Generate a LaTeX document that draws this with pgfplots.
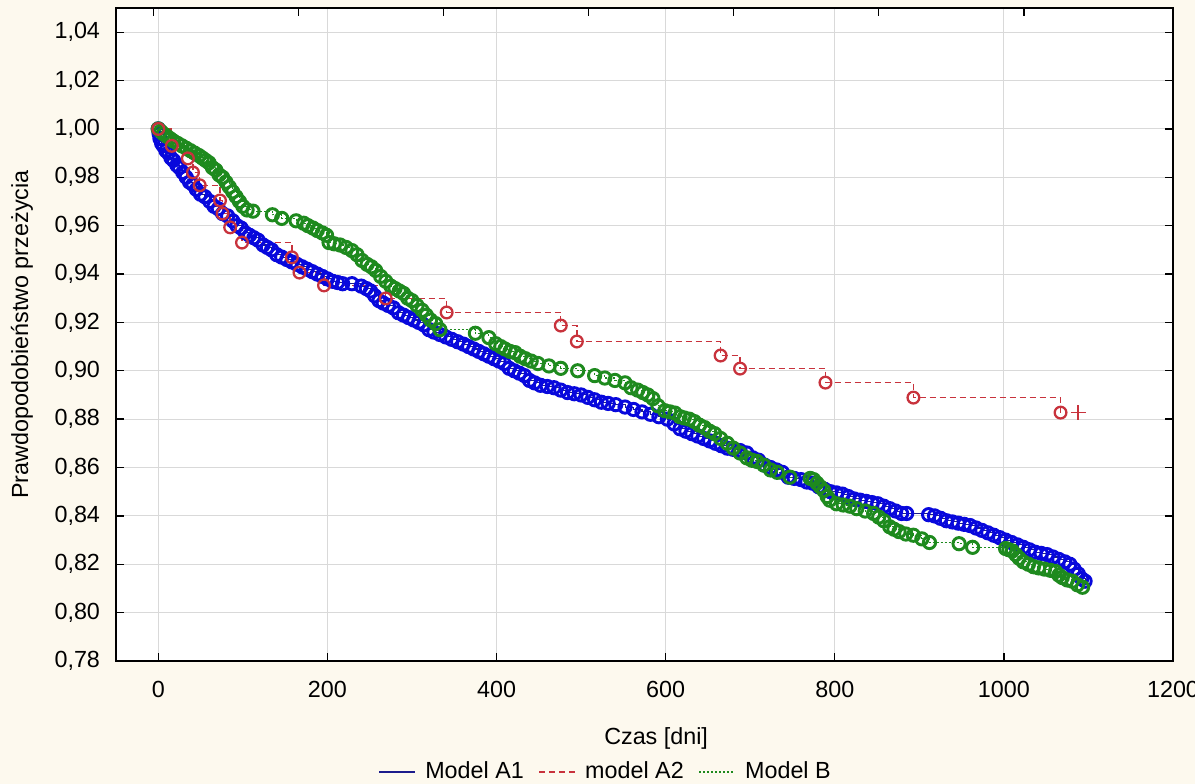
\documentclass[border=0pt]{standalone}
\usepackage{fontspec}
\setmainfont{Liberation Sans}
\usepackage{pgfplots}
\pgfplotsset{compat=1.18}
\definecolor{bgcream}{HTML}{FDF9EE}
\definecolor{gridgray}{HTML}{D9D9D9}
\definecolor{a1blue}{HTML}{0808DC}
\definecolor{a1navy}{HTML}{1C1C8C}
\definecolor{a2red}{HTML}{C8323C}
\definecolor{bgreen}{HTML}{1E8A1E}

% survival curves
\pgfplotstableread{
x y
0 1.000
1 0.998
2 0.996
4 0.994
6 0.993
9 0.991
12 0.990
15 0.988
18 0.987
22 0.985
25 0.984
29 0.982
33 0.980
37 0.978
41 0.977
45 0.975
50 0.973
55 0.972
61 0.970
66 0.968
71 0.967
76 0.965
82 0.964
88 0.962
93 0.960
98 0.959
103 0.957
108 0.956
113 0.955
118 0.954
124 0.952
129 0.951
134 0.950
140 0.948
146 0.947
152 0.946
158 0.945
164 0.944
170 0.943
176 0.942
182 0.941
188 0.940
194 0.939
200 0.938
206 0.937
212 0.9365
218 0.936
229 0.936
240 0.935
246 0.934
251 0.933
256 0.931
261 0.929
266 0.928
272 0.927
278 0.926
284 0.924
290 0.923
296 0.922
302 0.921
308 0.920
314 0.919
320 0.917
326 0.916
333 0.915
340 0.914
347 0.913
354 0.912
361 0.911
367 0.910
373 0.909
379 0.908
385 0.907
391 0.906
397 0.905
403 0.904
409 0.903
415 0.901
421 0.900
427 0.899
433 0.898
439 0.896
445 0.895
452 0.894
460 0.8935
468 0.893
476 0.892
484 0.891
492 0.8905
500 0.890
508 0.889
516 0.888
524 0.887
532 0.8865
541 0.886
552 0.885
562 0.884
572 0.883
582 0.882
592 0.881
602 0.880
610 0.878
617 0.876
624 0.875
631 0.874
638 0.873
645 0.872
652 0.871
659 0.870
666 0.869
673 0.868
680 0.8675
688 0.867
696 0.866
703 0.864
710 0.863
717 0.861
724 0.860
731 0.859
738 0.858
745 0.856
752 0.8555
760 0.855
767 0.854
774 0.8535
781 0.852
788 0.851
795 0.850
802 0.8495
809 0.849
816 0.848
823 0.847
830 0.8465
837 0.846
844 0.8455
851 0.845
858 0.844
865 0.843
872 0.842
879 0.841
885 0.841
911 0.8405
918 0.840
925 0.839
932 0.838
939 0.8375
946 0.837
953 0.8365
960 0.836
967 0.835
974 0.834
981 0.833
988 0.832
995 0.831
1002 0.830
1009 0.829
1016 0.828
1023 0.827
1030 0.826
1037 0.825
1044 0.8245
1051 0.824
1058 0.823
1065 0.822
1072 0.821
1078 0.820
1083 0.818
1088 0.816
1092 0.814
1096 0.813
}\modelAone

\pgfplotstableread{
x y
0 1.000
16 0.993
35 0.9878
41 0.982
49 0.9767
73 0.9704
76 0.965
85 0.9593
99 0.953
158 0.9469
167 0.9406
196 0.9353
269 0.9299
341 0.9241
476 0.9187
495 0.9121
665 0.9063
688 0.9009
789 0.8951
893 0.8889
1067 0.8827
}\modelAtwo

\pgfplotstableread{
x y
0 1.000
3 0.999
6 0.998
10 0.997
14 0.996
18 0.995
23 0.994
28 0.993
33 0.992
38 0.991
43 0.990
48 0.989
52 0.988
56 0.987
60 0.986
64 0.984
68 0.983
72 0.981
76 0.980
80 0.978
84 0.976
88 0.974
92 0.972
96 0.970
100 0.968
105 0.9665
112 0.966
135 0.9645
146 0.963
163 0.962
172 0.961
177 0.960
183 0.959
188 0.958
194 0.957
199 0.956
202 0.953
208 0.9525
215 0.952
222 0.951
229 0.9497
235 0.948
241 0.9456
247 0.944
252 0.943
257 0.9415
263 0.939
269 0.937
275 0.935
280 0.934
285 0.933
290 0.932
295 0.930
300 0.929
306 0.927
312 0.925
317 0.923
322 0.921
328 0.9195
333 0.917
375 0.9155
391 0.9137
399 0.9112
405 0.910
410 0.909
416 0.908
422 0.9075
428 0.906
434 0.905
441 0.904
449 0.903
462 0.902
476 0.901
496 0.900
516 0.898
528 0.897
540 0.896
552 0.895
559 0.893
567 0.892
573 0.891
579 0.890
585 0.8885
591 0.8855
599 0.8835
605 0.883
611 0.8825
617 0.881
622 0.8805
628 0.880
634 0.879
640 0.8775
646 0.8765
652 0.875
658 0.874
665 0.872
673 0.870
680 0.868
688 0.866
696 0.864
702 0.863
708 0.8625
716 0.861
724 0.859
732 0.858
747 0.856
771 0.8555
775 0.855
779 0.8535
783 0.852
787 0.8505
791 0.848
794 0.8465
802 0.845
810 0.8445
818 0.844
826 0.843
836 0.842
846 0.841
852 0.8395
858 0.838
865 0.8355
870 0.8345
876 0.8335
884 0.8325
893 0.832
903 0.8305
912 0.829
947 0.8285
963 0.827
1002 0.8265
1006 0.826
1010 0.8255
1014 0.824
1018 0.8225
1023 0.821
1029 0.820
1035 0.819
1041 0.8185
1048 0.818
1055 0.8175
1061 0.817
1065 0.8155
1069 0.8145
1075 0.8135
1081 0.813
1087 0.8115
1093 0.8105
}\modelB

\begin{document}
\begin{tikzpicture}
\fontsize{17.5}{21}\selectfont
% page = 1195x784 px at 0.75pt per px, axis box sits at (0,0)
\fill[bgcream] (-87pt,-92.25pt) rectangle (809.25pt,495.75pt);
\useasboundingbox (-87pt,-92.25pt) rectangle (809.25pt,495.75pt);
\begin{axis}[
  at={(0,0)}, anchor=south west,
  scale only axis,
  width=792.75pt, height=489.75pt,
  xmin=-50, xmax=1200,
  ymin=0.78, ymax=1.05,
  xtick={0,200,400,600,800,1000,1200},
  ytick={0.78,0.80,0.82,0.84,0.86,0.88,0.90,0.92,0.94,0.96,0.98,1.00,1.02,1.04},
  xtick pos=left,
  tick align=inside,
  major tick length=6pt,
  grid=major,
  grid style={gridgray, line width=0.75pt},
  axis line style={black, line width=1pt},
  tick style={black, line width=1pt},
  axis background/.style={fill=white},
  xticklabel style={/pgf/number format/1000 sep={},
    /pgf/number format/assume math mode=true, yshift=-9pt},
  yticklabel style={/pgf/number format/fixed,
    /pgf/number format/fixed zerofill,
    /pgf/number format/precision=2,
    /pgf/number format/use comma,
    /pgf/number format/assume math mode=true, xshift=-6pt},
  xlabel={Czas [dni]},
  ylabel={Prawdopodobieństwo przeżycia},
  xlabel style={at={(axis description cs:0.511,-0.119)}, anchor=center},
  ylabel style={at={(axis description cs:-0.0889,0.5)}, anchor=center},
  legend style={draw=none, fill=none, legend columns=3,
    at={(axis description cs:0.4636,-0.17)}, anchor=center,
    /tikz/every odd column/.style={column sep=5pt},
    /tikz/every even column/.style={column sep=9pt}},
  legend image code/.code={\draw[#1] (0pt,0pt) -- (27pt,0pt);},
]
\addplot[forget plot, const plot, a1navy, line width=0.8pt,
  mark=o, mark size=4.6pt, mark options={solid, a1blue, line width=2.2pt}]
  table[x=x, y=y] {\modelAone};
\addplot[forget plot, const plot, bgreen, line width=0.8pt,
  dash pattern=on 1.5pt off 1.5pt,
  mark=o, mark size=4.6pt, mark options={solid, line width=2.2pt}]
  table[x=x, y=y] {\modelB};
\addplot[forget plot, const plot, a2red, line width=1pt,
  dash pattern=on 4.5pt off 3pt,
  mark=o, mark size=4.4pt, mark options={solid, line width=1.7pt}]
  table[x=x, y=y] {\modelAtwo};
\addplot[forget plot, only marks, a2red, mark=+, mark size=5.5pt,
  mark options={line width=1.3pt}]
  coordinates {(1088,0.8827)};

\addlegendimage{a1navy, line width=1pt}
\addlegendentry{Model A1}
\addlegendimage{a2red, line width=1pt, dash pattern=on 4.5pt off 3pt}
\addlegendentry{model A2}
\addlegendimage{bgreen, line width=1pt, dash pattern=on 1.5pt off 1.5pt}
\addlegendentry{Model B}
\end{axis}
% top axis ticks sit on their own spacing in the reference
\begin{axis}[
  at={(0,0)}, anchor=south west,
  scale only axis,
  width=792.75pt, height=489.75pt,
  xmin=-50, xmax=1200,
  ymin=0.78, ymax=1.05,
  hide y axis,
  axis x line*=top,
  xtick={-5.5,166,337.6,509,680.6,852,1023.9},
  xticklabels={},
  tick align=inside,
  major tick length=6pt,
  axis line style={black, line width=1pt},
  tick style={black, line width=1pt},
]
\end{axis}
\end{tikzpicture}
\end{document}
